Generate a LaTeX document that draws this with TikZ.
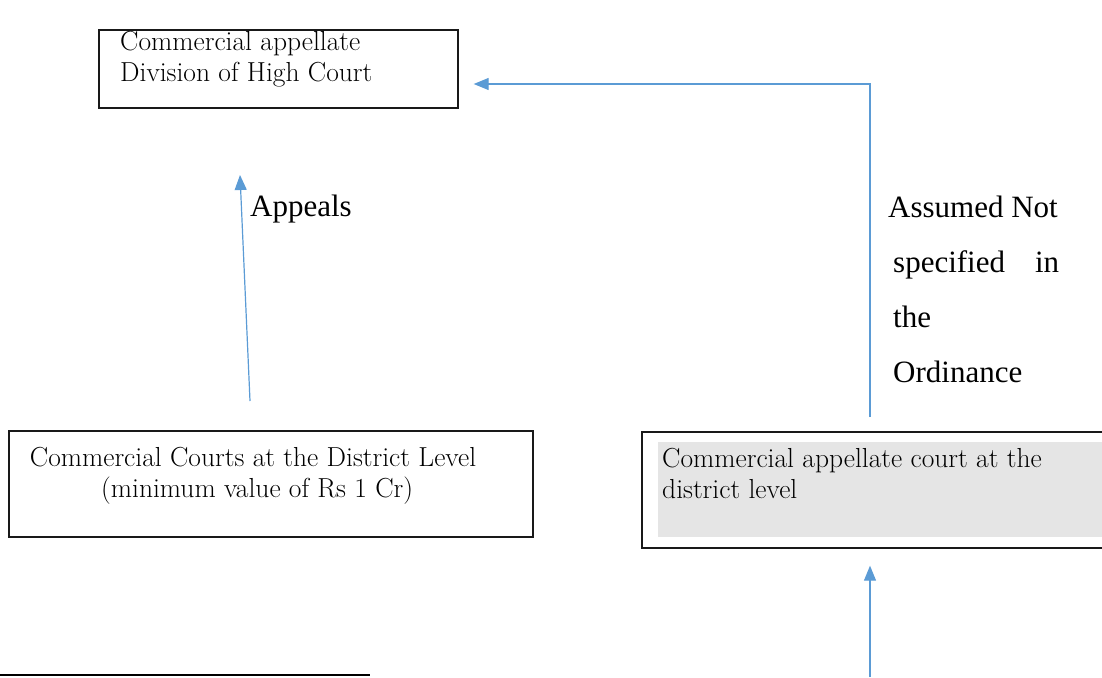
\documentclass[tikz,border=0pt]{standalone}
\usepackage{fontspec}
\newfontfamily\tnr{Liberation Serif}
\usetikzlibrary{arrows.meta}
\definecolor{flowblue}{HTML}{5B9BD5}
\tikzset{
  box/.style={draw=black!90,line width=1.4pt,inner sep=0pt},
  boxtext/.style={inner sep=0pt,font=\fontsize{27.5}{31}\selectfont},
  lbl/.style={inner sep=0pt,font=\tnr\fontsize{31}{55}\selectfont},
  flow/.style={draw=flowblue,line width=1.2pt,-{Triangle[length=15pt,width=12pt]}}
}
\begin{document}
\begin{tikzpicture}[x=1pt,y=-1pt]
            \useasboundingbox (0,0) rectangle (1102,677);
            \node [box,minimum width=359pt,minimum height=78pt] (hcdiv) at (278.5,69) {};
            \node [boxtext,anchor=north west,align=left] (hcdivtxt) at (120,31) {Commercial appellate\\Division of High Court};
            \node [box,minimum width=524pt,minimum height=106pt] (distcourt) at (271,484) {};
            \node [boxtext,align=center] (distcourttxt) at (253,476) {Commercial Courts at the District Level\\ \ (minimum value of Rs 1 Cr)};
            \node [box,minimum width=468pt,minimum height=116pt] (appcourt) at (876,490) {};
            \node [fill=black!10,minimum width=452pt,minimum height=95pt,inner sep=0pt] (appshade) at (884,489.5) {};
            \node [boxtext,anchor=north west,align=left] (appcourttxt) at (662,448) {Commercial appellate court at the\\district level};
            \coordinate (aplo) at (250,401);
            \coordinate (aphi) at (240,175);
            \draw [flow] (aplo)--(aphi);
            \node [lbl,anchor=west] (aplbl) at (250,209) {Appeals};
            \coordinate (aslo) at (870,417);
            \draw [flow] (aslo) |- ([xshift=15pt,yshift=-15pt]hcdiv.east);
            \node [lbl,anchor=north west,align=left] (aslbl) at (888,196) {Assumed Not\\ \hspace*{5pt}\makebox[166pt][s]{specified in}\\ \hspace*{5pt}the\\ \hspace*{5pt}Ordinance};
            \coordinate (inlo) at (870,677);
            \draw [flow] (inlo)--([yshift=-17pt]inlo |- appcourt.south);
            \draw [line width=1.3pt] (0,675)--(370,675);
        \end{tikzpicture}
\end{document}
